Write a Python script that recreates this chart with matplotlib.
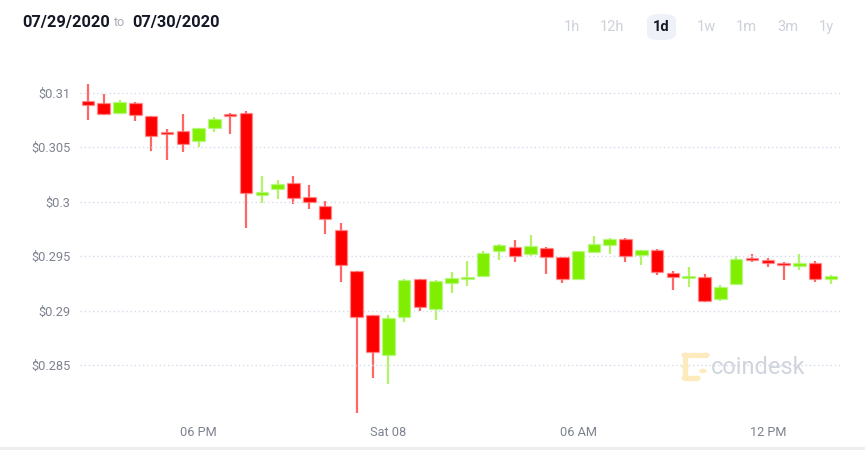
import matplotlib
matplotlib.use("Agg")
import matplotlib.pyplot as plt
import matplotlib.dates as mdates
from matplotlib.patches import FancyBboxPatch, Circle
import pandas as pd

# ---------------- data ----------------
start_time = "2020-08-07 14:30"
n_candles = 48
opens = [0.30921, 0.30908, 0.30817, 0.30903, 0.30786, 0.30642, 0.30649, 0.30560,
         0.30679, 0.30798, 0.30811, 0.30059, 0.30114, 0.30174, 0.30046, 0.29960,
         0.29743, 0.29361, 0.28963, 0.28596, 0.28945, 0.29288, 0.29016, 0.29254,
         0.29294, 0.29321, 0.29550, 0.29584, 0.29523, 0.29578, 0.29490, 0.29294,
         0.29541, 0.29600, 0.29655, 0.29514, 0.29557, 0.29349, 0.29303, 0.29312,
         0.29110, 0.29248, 0.29483, 0.29462, 0.29440, 0.29413, 0.29435, 0.29291]
highs = [0.31080, 0.30988, 0.30933, 0.30915, 0.30786, 0.30664, 0.30805, 0.30673,
         0.30780, 0.30811, 0.30832, 0.30239, 0.30199, 0.30236, 0.30153, 0.30006,
         0.29802, 0.29361, 0.28963, 0.28963, 0.29288, 0.29294, 0.29279, 0.29358,
         0.29453, 0.29545, 0.29609, 0.29649, 0.29694, 0.29582, 0.29495, 0.29550,
         0.29688, 0.29664, 0.29664, 0.29560, 0.29563, 0.29361, 0.29404, 0.29337,
         0.29233, 0.29502, 0.29517, 0.29483, 0.29447, 0.29520, 0.29453, 0.29327]
lows = [0.30750, 0.30798, 0.30807, 0.30738, 0.30468, 0.30385, 0.30459, 0.30499,
        0.30642, 0.30618, 0.29756, 0.29985, 0.30022, 0.29976, 0.29936, 0.29704,
        0.29266, 0.28059, 0.28380, 0.28328, 0.28894, 0.28997, 0.28915, 0.29165,
        0.29224, 0.29312, 0.29468, 0.29450, 0.29505, 0.29337, 0.29251, 0.29294,
        0.29536, 0.29520, 0.29447, 0.29422, 0.29325, 0.29193, 0.29220, 0.29083,
        0.29089, 0.29248, 0.29447, 0.29404, 0.29284, 0.29376, 0.29266, 0.29245]
closes = [0.30884, 0.30807, 0.30915, 0.30793, 0.30606, 0.30624, 0.30532, 0.30673,
          0.30761, 0.30789, 0.30077, 0.30086, 0.30165, 0.30031, 0.30000, 0.29839,
          0.29419, 0.28939, 0.28621, 0.28936, 0.29282, 0.29037, 0.29272, 0.29297,
          0.29309, 0.29527, 0.29600, 0.29502, 0.29594, 0.29495, 0.29291, 0.29545,
          0.29612, 0.29658, 0.29502, 0.29557, 0.29358, 0.29306, 0.29309, 0.29092,
          0.29220, 0.29474, 0.29465, 0.29440, 0.29422, 0.29438, 0.29291, 0.29316]

y_ticks = [0.31, 0.305, 0.30, 0.295, 0.29, 0.285]
y_tick_labels = ["$0.31", "$0.305", "$0.3", "$0.295", "$0.29", "$0.285"]
x_ticks = ["2020-08-07 18:00", "2020-08-08 00:00", "2020-08-08 06:00", "2020-08-08 12:00"]
x_tick_labels = ["06 PM", "Sat 08", "06 AM", "12 PM"]
range_buttons = ["1h", "12h", "1d", "1w", "1m", "3m", "1y"]
active_button = "1d"
date_from = "07/29/2020"
date_to = "07/30/2020"

# ---------------- style ----------------
RED = "#ff0000"
GREEN = "#7fee00"
GRID = "#d3dbea"
TICK = "#7d828f"
FONT = ["Roboto", "DejaVu Sans"]
plt.rcParams["font.family"] = FONT

W, H = 865, 450
fig = plt.figure(figsize=(W / 100, H / 100), dpi=100)
fig.patch.set_facecolor("white")

def px(x, y):
    return x / W, 1 - y / H

ax_l, ax_r, ax_t, ax_b = 80, 840, 80, 418
ax = fig.add_axes([ax_l / W, 1 - ax_b / H, (ax_r - ax_l) / W, (ax_b - ax_t) / H])

times = pd.date_range(start_time, periods=n_candles, freq="30min")
tnum = mdates.date2num(times.to_pydatetime())
body_w = 0.0165  # days
min_h = 0.00018

for t, o, h, l, c in zip(tnum, opens, highs, lows, closes):
    col = GREEN if c >= o else RED
    ax.vlines(t, l, h, color=col, alpha=0.6, lw=1.6, zorder=2)
    bot = min(o, c)
    hgt = max(abs(c - o), min_h)
    if abs(c - o) < min_h:
        bot = (o + c) / 2 - min_h / 2
    ax.bar(t, hgt, bottom=bot, width=body_w, color=col,
           edgecolor=(1.0, 0.55, 0.55, 0.6) if col == RED else (0.7, 0.97, 0.5, 0.6),
           linewidth=1.0, zorder=3)

ax.set_xlim(mdates.date2num(pd.Timestamp("2020-08-07 14:15")),
            mdates.date2num(pd.Timestamp("2020-08-08 14:17")))
ax.set_ylim(0.31 - (ax_b - 92.7) / 10900, 0.31 + (92.7 - ax_t) / 10900)

ax.set_yticks(y_ticks)
ax.set_yticklabels(y_tick_labels)
ax.set_xticks(mdates.date2num(pd.to_datetime(x_ticks).to_pydatetime()))
ax.set_xticklabels(x_tick_labels)
ax.tick_params(axis="both", length=0, labelsize=9.2, colors=TICK)
ax.tick_params(axis="y", pad=7)
ax.tick_params(axis="x", pad=6)
for s in ax.spines.values():
    s.set_visible(False)
ax.grid(axis="y", color=GRID, linestyle=(0, (1, 2)), lw=1.0, zorder=4)
ax.grid(axis="x", visible=False)
ax.set_axisbelow(False)

# watermark
fig.text(*px(711, 367), "coindesk", fontsize=17, color="#d0d4dd",
         ha="left", va="center", zorder=1)
logo_col = "#fdebbd"
logo_lines = [((685, 355), (706, 355)), ((685, 355), (685, 378)), ((685, 378), (697, 378))]
for (a, b) in logo_lines:
    fig.add_artist(plt.Line2D([a[0] / W, b[0] / W], [1 - a[1] / H, 1 - b[1] / H],
                              transform=fig.transFigure, color=logo_col, lw=3.8,
                              solid_capstyle="round", zorder=1))
for (cx, cy) in [(685, 355), (695, 355), (706, 355), (685, 367), (685, 378), (697, 378), (703, 371)]:
    fig.patches.append(Circle(px(cx, cy), 3.0 / W, transform=fig.transFigure,
                              color=logo_col, zorder=1))

# header
hdr_y = 22
fig.text(*px(22, hdr_y), date_from, fontsize=11.8, fontweight="bold",
         color="#141826", ha="left", va="center")
fig.text(*px(114, hdr_y + 1), "to", fontsize=9, color="#a9adb8", ha="left", va="center")
fig.text(*px(132, hdr_y), date_to, fontsize=11.8, fontweight="bold",
         color="#141826", ha="left", va="center")

btn_x = [572, 612, 661, 706, 746, 788, 826]
for bx, lab in zip(btn_x, range_buttons):
    if lab == active_button:
        fig.patches.append(FancyBboxPatch(px(647, 40), 29 / W, 26 / H,
                                          boxstyle="round,pad=0,rounding_size=0.014",
                                          transform=fig.transFigure,
                                          facecolor="#eef1f7", edgecolor="none", zorder=0))
        fig.text(*px(bx, 27), lab, fontsize=10.5, fontweight="bold", color="#141826",
                 ha="center", va="center", zorder=2)
    else:
        fig.text(*px(bx, 27), lab, fontsize=10.5, color="#cdd1da",
                 ha="center", va="center")

# bottom border
fig.add_artist(plt.Line2D([0, 1], [1.5 / H, 1.5 / H], transform=fig.transFigure,
                          color="#eeeeee", lw=3))

fig.savefig("out.png", dpi=100, facecolor="white")
